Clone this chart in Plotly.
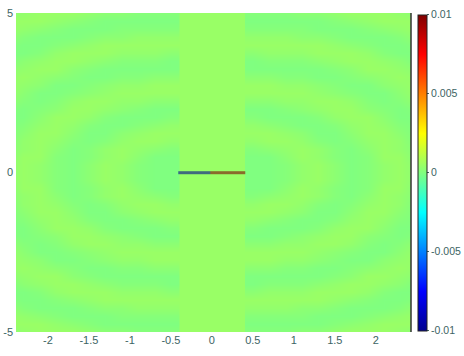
import plotly.graph_objects as go

# ---- data ----
# field sample columns (x) and rows (y); levels 0 (cyan-green band) .. 4 (yellow-green)
x_cols = [-2.5, -2.3, -2.1, -1.9, -1.7, -1.5, -1.3, -1.1, -0.9, -0.7, -0.5, -0.41,
          -0.39, -0.2, 0, 0.2, 0.39,
          0.41, 0.5, 0.7, 0.9, 1.1, 1.3, 1.5, 1.7, 1.9, 2.1, 2.3, 2.5]
y_rows = [-5, -4.75, -4.5, -4.25, -4, -3.75, -3.5, -3.25, -3, -2.75, -2.5, -2.25, -2,
          -1.75, -1.5, -1.25, -1, -0.75, -0.5, -0.25, 0, 0.25, 0.5, 0.75, 1, 1.25,
          1.5, 1.75, 2, 2.25, 2.5, 2.75, 3, 3.25, 3.5, 3.75, 4, 4.25, 4.5, 4.75, 5]
level_rows = [
    "234443221111" "44444" "111122344432",  # -5
    "444321000000" "44444" "000000123444",
    "432100011111" "44444" "111110001234",
    "310001223333" "44444" "333322100013",
    "100123444444" "44444" "444444321001",  # -4
    "001344433322" "44444" "223334443100",
    "023443211100" "44444" "001112344320",
    "234421000000" "44444" "000000124432",
    "343210011222" "44444" "222110012343",  # -3
    "432001233444" "44444" "444332100234",
    "420012344444" "44444" "444443210024",
    "310134433222" "44444" "222334431013",
    "101244321000" "44444" "000123442101",  # -2
    "002443100011" "44444" "110001344200",
    "013431001233" "44444" "332100134310",
    "024420023444" "44444" "444320024420",
    "034310134433" "44444" "334431013430",  # -1
    "134201343211" "44444" "112343102431",
    "144101342000" "44444" "000243101441",
    "243102431000" "44444" "000134201342",
    "243102431000" "44444" "000134201342",  # 0
    "243102431000" "44444" "000134201342",
    "144101342000" "44444" "000243101441",
    "134201343211" "44444" "112343102431",
    "034310134433" "44444" "334431013430",  # 1
    "024420023444" "44444" "444320024420",
    "013431001233" "44444" "332100134310",
    "002443100011" "44444" "110001344200",
    "101244321000" "44444" "000123442101",  # 2
    "310134433222" "44444" "222334431013",
    "420012344444" "44444" "444443210024",
    "432001233444" "44444" "444332100234",
    "343210011222" "44444" "222110012343",  # 3
    "234421000000" "44444" "000000124432",
    "023443211100" "44444" "001112344320",
    "001344433322" "44444" "223334443100",
    "100123444444" "44444" "444444321001",  # 4
    "310001223333" "44444" "333322100013",
    "432100011111" "44444" "111110001234",
    "444321000000" "44444" "000000123444",
    "234443221111" "44444" "111122344432",  # 5
]
level_step = 0.000125  # value per level

# the short line source along y = 0
seg_x = [-0.39, -0.35, -0.3, -0.25, -0.2, -0.15, -0.1, -0.05, 0,
         0.05, 0.1, 0.15, 0.2, 0.25, 0.3, 0.35, 0.39]
seg_v = [-0.01, -0.01, -0.01, -0.01, -0.01, -0.01, -0.01, -0.01, 0.01,
         0.01, 0.01, 0.01, 0.01, 0.01, 0.01, 0.01, 0.01]
seg_y = [-0.02, 0.02]

x_ticks = [-2, -1.5, -1, -0.5, 0, 0.5, 1, 1.5, 2]
x_ticktext = ["-2", "-1.5", "-1", "-0.5", "0", "0.5", "1", "1.5", "2"]
y_ticks = [-5, 0, 5]
y_ticktext = ["-5", "0", "5"]
cb_ticks = [-0.01, -0.005, 0, 0.005, 0.01]
cb_ticktext = ["-0.01", "-0.005", "0", "0.005", "0.01"]

z_field = [[level_step * int(c) for c in row] for row in level_rows]

jet = [[0.0, "rgb(0,0,143)"], [0.125, "rgb(0,0,255)"], [0.375, "rgb(0,255,255)"],
       [0.625, "rgb(255,255,0)"], [0.875, "rgb(255,0,0)"], [1.0, "rgb(128,0,0)"]]

txt = "#3c6464"
font = dict(family="Liberation Sans, Arial, sans-serif", size=11, color=txt)
cbfont = dict(family="Liberation Sans, Arial, sans-serif", size=10.5, color=txt)

fig = go.Figure()
fig.add_trace(go.Heatmap(x=x_cols, y=y_rows, z=z_field, zsmooth="best",
                         coloraxis="coloraxis", hoverinfo="skip"))
fig.add_trace(go.Heatmap(x=seg_x, y=seg_y, z=[seg_v, seg_v], zsmooth=False,
                         coloraxis="coloraxis", opacity=0.58, hoverinfo="skip"))

W, H = 464, 356
L, R, T, B = 16, 53, 13, 24
plot_w = W - L - R

fig.update_layout(
    template="none",
    width=W, height=H,
    margin=dict(l=L, r=R, t=T, b=B, autoexpand=False),
    paper_bgcolor="white", plot_bgcolor="white",
    font=font,
    showlegend=False,
    coloraxis=dict(
        cmin=-0.01, cmax=0.01, colorscale=jet,
        colorbar=dict(
            x=(418 - L) / plot_w, xanchor="left", xpad=0,
            y=0.5, yanchor="middle", len=0.99, lenmode="fraction", ypad=0,
            thickness=9, thicknessmode="pixels",
            outlinewidth=1, outlinecolor="#222222",
            tickvals=cb_ticks, ticktext=cb_ticktext,
            ticks="outside", ticklen=2, tickcolor=txt,
            tickfont=cbfont,
        ),
    ),
    xaxis=dict(range=[-2.39, 2.43], tickvals=x_ticks, ticktext=x_ticktext,
               showgrid=False, zeroline=False, showline=False, ticks="",
               automargin=False, tickfont=font),
    yaxis=dict(range=[-5, 5], tickvals=y_ticks, ticktext=y_ticktext,
               showgrid=False, zeroline=False, showline=False, ticks="",
               automargin=False, ticklabelstandoff=2, tickfont=font),
    shapes=[dict(type="line", xref="paper", yref="paper", x0=1, x1=1, y0=0, y1=1,
                 line=dict(color="#333333", width=1.5))],
)

fig.write_html("out.html",
               config={"displayModeBar": False, "staticPlot": True},
               post_script="document.body.style.margin='0px';"
                           "document.body.style.overflow='hidden';")
